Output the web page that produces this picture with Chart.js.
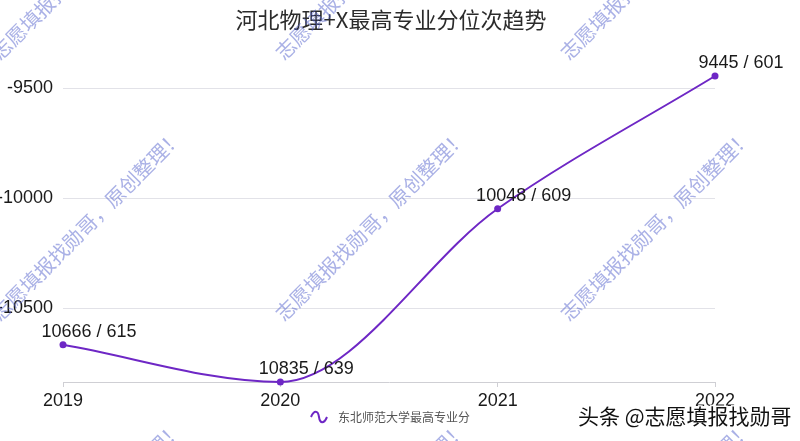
<!DOCTYPE html>
<html>
<head>
<meta charset="utf-8">
<script src="https://cdn.jsdelivr.net/npm/chart.js@4/dist/chart.umd.min.js"></script>
<style>
  html, body { margin: 0; padding: 0; background: #fff; }
  #wrap { width: 800px; height: 441px; }
</style>
</head>
<body>
<div id="wrap"><canvas id="chart" width="800" height="441"></canvas></div>
<script>
// data
const years = ['2019', '2020', '2021', '2022'];
const ranks = [10666, 10835, 10048, 9445];
const scores = [615, 639, 609, 601];
const yTicks = [-10500, -10000, -9500];

const titleText = '河北物理+X最高专业分位次趋势';
const seriesName = '东北师范大学最高专业分';
const markText = '志愿填报找勋哥，原创整理！';
const footText = '头条 @志愿填报找勋哥';

const LATIN = '"Liberation Sans", "Noto Sans CJK SC", sans-serif';
const CJK = '"Noto Sans CJK SC", "Liberation Sans", sans-serif';
const PURPLE = '#6e27c5';

// title, point labels, legend and watermarks are drawn here
const decorPlugin = {
    id: 'decor',
    afterDatasetsDraw: (chart) => {
        const ctx = chart.ctx;
        const meta = chart.getDatasetMeta(0);

        ctx.save();
        ctx.font = '18px ' + LATIN;
        ctx.fillStyle = '#1a1a1a';
        ctx.textAlign = 'center';
        ctx.textBaseline = 'bottom';
        meta.data.forEach((pt, i) => {
            ctx.fillText(ranks[i] + ' / ' + scores[i], pt.x + 26, pt.y - 4);
        });
        ctx.restore();
    },
    afterDraw: (chart) => {
        const ctx = chart.ctx;

        // title
        ctx.save();
        ctx.font = '22px ' + CJK;
        ctx.fillStyle = '#2b2b2b';
        ctx.textAlign = 'center';
        ctx.textBaseline = 'middle';
        ctx.fillText(titleText, 391, 20);
        ctx.restore();

        // legend: wavy marker + name
        ctx.save();
        ctx.strokeStyle = PURPLE;
        ctx.lineWidth = 2;
        ctx.beginPath();
        ctx.moveTo(311, 417);
        ctx.bezierCurveTo(314, 410, 318, 410, 319, 417);
        ctx.bezierCurveTo(320, 424, 324, 424, 327, 417);
        ctx.stroke();
        ctx.font = '12px ' + CJK;
        ctx.fillStyle = '#555';
        ctx.textAlign = 'left';
        ctx.textBaseline = 'middle';
        ctx.fillText(seriesName, 338, 417);
        ctx.restore();

        // diagonal watermarks
        ctx.save();
        ctx.font = '20px ' + CJK;
        ctx.fillStyle = 'rgba(85, 100, 205, 0.5)';
        ctx.textAlign = 'left';
        ctx.textBaseline = 'middle';
        [56, 317, 609].forEach((y0) => {
            [-5, 279, 564].forEach((x0) => {
                ctx.save();
                ctx.translate(x0, y0);
                ctx.rotate(-45 * Math.PI / 180);
                ctx.fillText(markText, 0, 0);
                ctx.restore();
            });
        });
        ctx.restore();

        // platform stamp bottom right
        ctx.save();
        ctx.font = '21px ' + CJK;
        ctx.textAlign = 'left';
        ctx.textBaseline = 'middle';
        ctx.lineWidth = 3;
        ctx.strokeStyle = 'rgba(255,255,255,0.9)';
        ctx.strokeText(footText, 578, 416);
        ctx.fillStyle = '#111';
        ctx.fillText(footText, 578, 416);
        ctx.restore();
    },
};

const config = {
    type: 'line',
    data: {
        labels: years,
        datasets: [
            {
                label: seriesName,
                data: ranks.map((r) => -r),
                borderColor: PURPLE,
                backgroundColor: PURPLE,
                pointBackgroundColor: PURPLE,
                pointBorderColor: PURPLE,
                pointRadius: 3.5,
                pointBorderWidth: 0,
                borderWidth: 2,
                fill: false,
                cubicInterpolationMode: 'monotone',
                clip: false,
            },
        ],
    },
    options: {
        responsive: false,
        animation: false,
        devicePixelRatio: 1,
        layout: {
            padding: { left: 0, right: 85, top: 76, bottom: 0 },
        },
        plugins: {
            legend: { display: false },
            title: { display: false },
            tooltip: { enabled: false },
        },
        scales: {
            x: {
                offset: false,
                afterFit: (scale) => { scale.height = 59; },
                grid: {
                    drawOnChartArea: false,
                    drawTicks: true,
                    tickLength: 5,
                    color: '#cfcfd4',
                },
                border: { display: true, color: '#cfcfd4' },
                ticks: {
                    color: '#1a1a1a',
                    font: { size: 18, family: LATIN },
                    padding: 3,
                    maxRotation: 0,
                },
            },
            y: {
                min: -10835,
                max: -9445,
                afterFit: (scale) => { scale.width = 63; },
                afterBuildTicks: (scale) => {
                    scale.ticks = yTicks.map((v) => ({ value: v }));
                },
                grid: {
                    drawTicks: false,
                    color: '#e2e2e8',
                },
                border: { display: false },
                ticks: {
                    color: '#1a1a1a',
                    font: { size: 18, family: LATIN },
                    padding: 10,
                    callback: (value) => String(value),
                },
            },
        },
    },
    plugins: [decorPlugin],
};

const ctx = document.getElementById('chart').getContext('2d');
new Chart(ctx, config);
</script>
</body>
</html>
